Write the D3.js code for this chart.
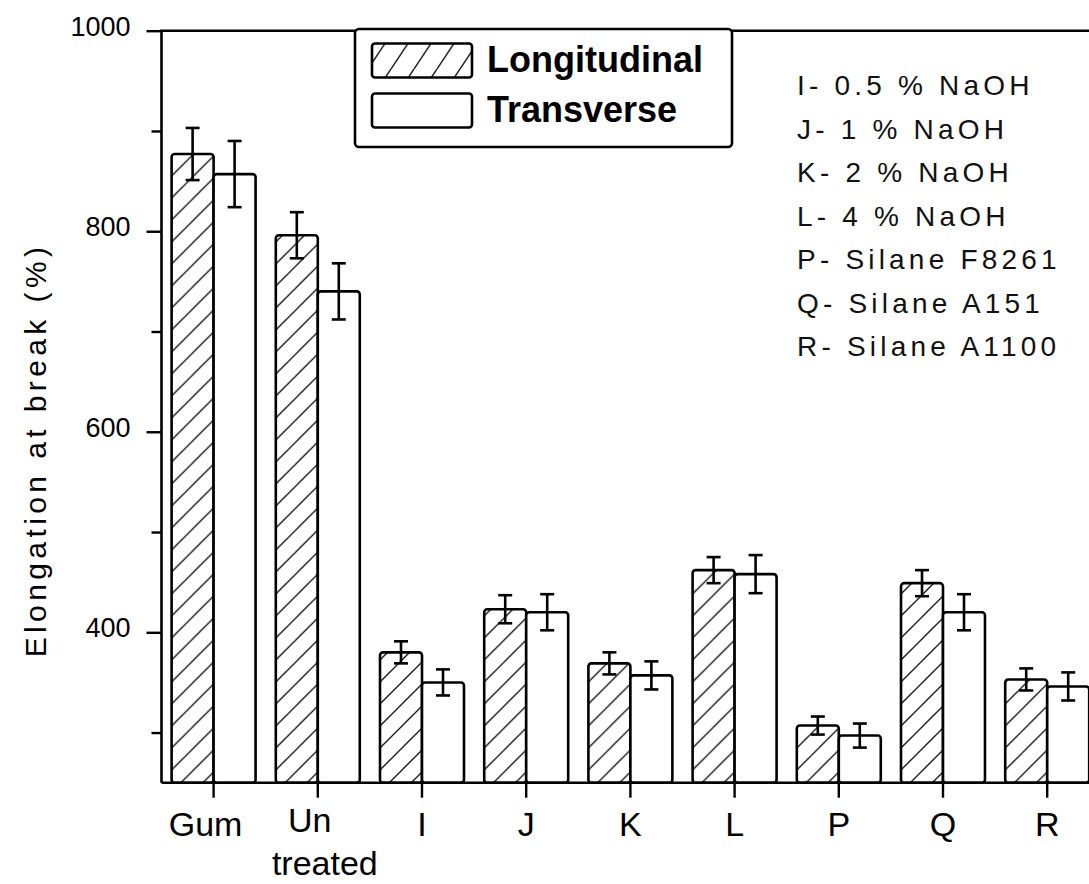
<!DOCTYPE html>
<html>
<head>
<meta charset="utf-8">
<script src="https://cdn.jsdelivr.net/npm/d3@7"></script>
<style>
  html, body { margin: 0; padding: 0; background: #fff; }
  svg { display: block; font-family: "Liberation Sans", Arial, Helvetica, sans-serif; }
</style>
</head>
<body>
<svg id="chart" width="1089" height="884"></svg>
<script>
// Elongation at break (%) for each fibre treatment, two orientations
const categories = ["Gum", "Untreated", "I", "J", "K", "L", "P", "Q", "R"];
const tickLabels = [["Gum"], ["Un", "treated"], ["I"], ["J"], ["K"], ["L"], ["P"], ["Q"], ["R"]];
const seriesNames = ["Longitudinal", "Transverse"];
const longitudinal    = [877, 796, 380, 423, 369, 462, 307, 449, 353];
const longitudinalErr = [26, 23, 11, 14, 11, 13, 9, 13, 11];
const transverse      = [857, 740, 350, 420, 357, 458, 297, 420, 346];
const transverseErr   = [33, 28, 13, 18, 14, 19, 12, 18, 14];
const majorTicks = [400, 600, 800, 1000];
const minorTicks = [300, 500, 700, 900];
const yLabel = "Elongation at break (%)";
const treatmentKey = [
  "I- 0.5 % NaOH",
  "J- 1 % NaOH",
  "K- 2 % NaOH",
  "L- 4 % NaOH",
  "P- Silane F8261",
  "Q- Silane A151",
  "R- Silane A1100"
];

const svg = d3.select("#chart");
const plot = { left: 161.5, top: 30.7, bottom: 782.7, step: 104.2 };
plot.right = plot.left + plot.step * categories.length;

const rows = categories.map((c, i) => ({
  cat: c,
  values: [
    { key: seriesNames[0], v: longitudinal[i], e: longitudinalErr[i] },
    { key: seriesNames[1], v: transverse[i], e: transverseErr[i] }
  ]
}));

const x = d3.scaleBand()
  .domain(categories)
  .range([plot.left, plot.right])
  .paddingInner(0.194)
  .paddingOuter(0.097);
const xs = d3.scaleBand().domain(seriesNames).range([0, x.bandwidth()]);
const y = d3.scaleLinear().domain([250, 1000]).range([plot.bottom, plot.top]);

// hatch patterns
const defs = svg.append("defs");
defs.append("pattern")
  .attr("id", "hatch").attr("patternUnits", "userSpaceOnUse")
  .attr("width", 22).attr("height", 22)
  .append("path")
  .attr("d", "M0,22 L22,0 M-5.5,5.5 L5.5,-5.5 M16.5,27.5 L27.5,16.5")
  .attr("stroke", "#1a1a1a").attr("stroke-width", 1.4);
defs.append("pattern")
  .attr("id", "hatchKey").attr("patternUnits", "userSpaceOnUse")
  .attr("width", 23).attr("height", 34.5)
  .append("path")
  .attr("d", "M0,34.5 L23,0 M-23,34.5 L0,0 M23,34.5 L46,0")
  .attr("stroke", "#1a1a1a").attr("stroke-width", 1.5);

const fillFor = k => k === seriesNames[0] ? "url(#hatch)" : "#fff";

// bars
const groups = svg.append("g").selectAll("g").data(rows).join("g")
  .attr("transform", d => `translate(${x(d.cat)},0)`);
groups.selectAll("rect").data(d => d.values).join("rect")
  .attr("x", d => xs(d.key))
  .attr("y", d => y(d.v))
  .attr("width", xs.bandwidth())
  .attr("height", d => y(250) - y(d.v))
  .attr("rx", 3)
  .attr("fill", d => fillFor(d.key))
  .attr("stroke", "#000")
  .attr("stroke-width", 2.6);

// error bars
const cap = 7;
const eb = groups.selectAll("g.err").data(d => d.values).join("g").attr("class", "err")
  .attr("stroke", "#000").attr("stroke-width", 2.6);
eb.append("line")
  .attr("x1", d => xs(d.key) + xs.bandwidth() / 2).attr("x2", d => xs(d.key) + xs.bandwidth() / 2)
  .attr("y1", d => y(d.v + d.e)).attr("y2", d => y(d.v - d.e));
eb.append("line")
  .attr("x1", d => xs(d.key) + xs.bandwidth() / 2 - cap).attr("x2", d => xs(d.key) + xs.bandwidth() / 2 + cap)
  .attr("y1", d => y(d.v + d.e)).attr("y2", d => y(d.v + d.e));
eb.append("line")
  .attr("x1", d => xs(d.key) + xs.bandwidth() / 2 - cap).attr("x2", d => xs(d.key) + xs.bandwidth() / 2 + cap)
  .attr("y1", d => y(d.v - d.e)).attr("y2", d => y(d.v - d.e));

// frame
svg.append("path")
  .attr("d", `M${plot.left},${plot.bottom} V${plot.top} H${plot.right} M${plot.left},${plot.bottom} H${plot.right}`)
  .attr("fill", "none").attr("stroke", "#000").attr("stroke-width", 2.6);

// y axis
const yMajor = svg.append("g").attr("transform", `translate(${plot.left},0)`)
  .call(d3.axisLeft(y).tickValues(majorTicks).tickSize(15).tickPadding(16).tickFormat(d3.format("d")));
yMajor.select(".domain").remove();
yMajor.selectAll("line").attr("stroke-width", 2.4);
yMajor.selectAll("text").attr("font-size", 27).attr("dy", "0.17em").attr("fill", "#000")
  .attr("font-family", "'Liberation Sans', Arial, sans-serif");
const yMinor = svg.append("g").attr("transform", `translate(${plot.left},0)`)
  .call(d3.axisLeft(y).tickValues(minorTicks).tickSize(10).tickFormat(""));
yMinor.select(".domain").remove();
yMinor.selectAll("line").attr("stroke-width", 2.4);

// x axis
const xAxis = svg.append("g").attr("transform", `translate(0,${plot.bottom})`)
  .call(d3.axisBottom(x).tickSize(15).tickSizeOuter(0).tickFormat(""));
xAxis.select(".domain").remove();
xAxis.selectAll("line").attr("stroke-width", 2.4);
xAxis.selectAll(".tick").each(function(d, i) {
  const lines = tickLabels[i];
  const t = d3.select(this).append("text")
    .attr("fill", "#000").attr("font-size", 34).attr("text-anchor", "middle")
    .attr("font-family", "'Liberation Sans', Arial, sans-serif");
  if (lines.length === 1) {
    t.append("tspan").attr("x", lines[0] === "Gum" ? -8 : 0).attr("y", 53).text(lines[0]);
  } else {
    t.append("tspan").attr("x", -8).attr("y", 49).text(lines[0]);
    t.append("tspan").attr("x", 7).attr("y", 92).text(lines[1]);
  }
});

// y axis title
svg.append("text")
  .attr("transform", "translate(46,450) rotate(-90)")
  .attr("text-anchor", "middle")
  .attr("font-size", 30)
  .attr("letter-spacing", 4.4)
  .attr("fill", "#000")
  .text(yLabel);

// legend
const lg = svg.append("g");
lg.append("rect").attr("x", 355).attr("y", 29).attr("width", 377).attr("height", 118).attr("rx", 4)
  .attr("fill", "#fff").attr("stroke", "#000").attr("stroke-width", 2.6);
seriesNames.forEach((name, i) => {
  const yy = 43.5 + i * 50;
  lg.append("rect").attr("x", 372).attr("y", yy).attr("width", 100).attr("height", 34).attr("rx", 3)
    .attr("fill", i === 0 ? "url(#hatchKey)" : "#fff")
    .attr("stroke", "#000").attr("stroke-width", 2.6);
  lg.append("text").attr("x", 487).attr("y", yy + 28.5)
    .attr("font-size", 36).attr("font-weight", "bold").attr("fill", "#000")
    .text(name);
});

// treatment key
svg.append("g").selectAll("text").data(treatmentKey).join("text")
  .attr("x", 797)
  .attr("y", (d, i) => 95 + i * 43.5)
  .attr("font-size", 28)
  .attr("letter-spacing", 4.2)
  .attr("fill", "#111")
  .text(d => d);
</script>
</body>
</html>
